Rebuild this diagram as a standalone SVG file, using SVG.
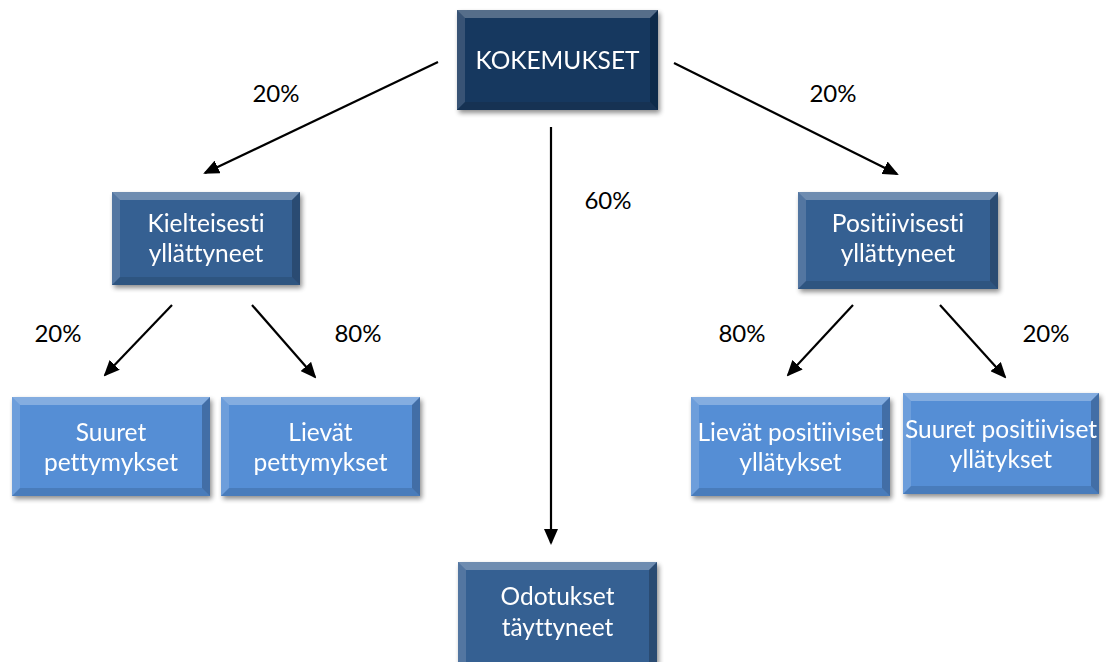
<svg xmlns="http://www.w3.org/2000/svg" width="1109" height="662" viewBox="0 0 1109 662">
<defs>
<filter id="sh" x="-10%" y="-10%" width="130%" height="130%">
<feGaussianBlur in="SourceAlpha" stdDeviation="2.5"/>
<feOffset dx="2" dy="3" result="b"/>
<feComponentTransfer><feFuncA type="linear" slope="0.45"/></feComponentTransfer>
<feMerge><feMergeNode/><feMergeNode in="SourceGraphic"/></feMerge>
</filter>
<marker id="ah" markerWidth="16" markerHeight="14" refX="14" refY="7" orient="auto" markerUnits="userSpaceOnUse" viewBox="0 0 16 14">
<path d="M0,0 L16,7 L0,14 z" fill="#000"/>
</marker>
</defs>
<style>
.lbl{font-family:"Lato","Liberation Sans",sans-serif;font-size:24px;fill:#000;text-anchor:middle;font-variant-ligatures:none}
.bt{font-family:"Lato","Liberation Sans",sans-serif;font-size:24.5px;fill:#fff;text-anchor:middle;font-variant-ligatures:none}
.ln{stroke:#000;stroke-width:2.2;fill:none;marker-end:url(#ah)}
.hi{fill:#fff;opacity:0.28}
.lo{fill:#000;opacity:0.22}
.lf{fill:#fff;opacity:0.14}
.bo{fill:#000;opacity:0.12}
</style>
<rect width="1109" height="662" fill="#fff"/>
<g id="connectors">
<line class="ln" x1="438" y1="62" x2="205" y2="173"/>
<line class="ln" x1="674" y1="63" x2="897" y2="174"/>
<line class="ln" x1="551" y1="127" x2="551" y2="543"/>
<line class="ln" x1="172" y1="305" x2="105" y2="375"/>
<line class="ln" x1="252" y1="305" x2="315" y2="377"/>
<line class="ln" x1="853" y1="305" x2="788" y2="375"/>
<line class="ln" x1="940" y1="305" x2="1005" y2="377"/>
<text class="lbl" x="276" y="102">20%</text>
<text class="lbl" x="833" y="102">20%</text>
<text class="lbl" x="608" y="209">60%</text>
<text class="lbl" x="58" y="342">20%</text>
<text class="lbl" x="358" y="342">80%</text>
<text class="lbl" x="742" y="342">80%</text>
<text class="lbl" x="1046" y="342">20%</text>
</g>
<g id="n-kokemukset" filter="url(#sh)">
<rect x="457" y="10" width="201" height="100" fill="#17375E"/>
<polygon class="hi" points="457,10 658,10 650,18 465,18"/>
<polygon class="lf" points="457,10 465,18 465,102 457,110"/>
<polygon class="lo" points="658,10 658,110 650,102 650,18"/>
<polygon class="bo" points="457,110 658,110 650,102 465,102"/>
<text class="bt" x="557.5" y="69">KOKEMUKSET</text>
</g>
<g id="n-kielteisesti" filter="url(#sh)">
<rect x="112" y="192" width="188" height="93" fill="#366092"/>
<polygon class="hi" points="112,192 300,192 292,200 120,200"/>
<polygon class="lf" points="112,192 120,200 120,277 112,285"/>
<polygon class="lo" points="300,192 300,285 292,277 292,200"/>
<polygon class="bo" points="112,285 300,285 292,277 120,277"/>
<text class="bt" x="206" y="232">Kielteisesti</text>
<text class="bt" x="206" y="262">yllättyneet</text>
</g>
<g id="n-positiivisesti" filter="url(#sh)">
<rect x="798" y="192" width="200" height="97" fill="#366092"/>
<polygon class="hi" points="798,192 998,192 990,200 806,200"/>
<polygon class="lf" points="798,192 806,200 806,281 798,289"/>
<polygon class="lo" points="998,192 998,289 990,281 990,200"/>
<polygon class="bo" points="798,289 998,289 990,281 806,281"/>
<text class="bt" x="898" y="232">Positiivisesti</text>
<text class="bt" x="898" y="262">yllättyneet</text>
</g>
<g id="n-suuret-pettymykset" filter="url(#sh)">
<rect x="12" y="397" width="198" height="99" fill="#558ED5"/>
<polygon class="hi" points="12,397 210,397 202,405 20,405"/>
<polygon class="lf" points="12,397 20,405 20,488 12,496"/>
<polygon class="lo" points="210,397 210,496 202,488 202,405"/>
<polygon class="bo" points="12,496 210,496 202,488 20,488"/>
<text class="bt" x="111" y="441">Suuret</text>
<text class="bt" x="111" y="471">pettymykset</text>
</g>
<g id="n-lievat-pettymykset" filter="url(#sh)">
<rect x="221" y="397" width="199" height="99" fill="#558ED5"/>
<polygon class="hi" points="221,397 420,397 412,405 229,405"/>
<polygon class="lf" points="221,397 229,405 229,488 221,496"/>
<polygon class="lo" points="420,397 420,496 412,488 412,405"/>
<polygon class="bo" points="221,496 420,496 412,488 229,488"/>
<text class="bt" x="320.5" y="441">Lievät</text>
<text class="bt" x="320.5" y="471">pettymykset</text>
</g>
<g id="n-lievat-positiiviset" filter="url(#sh)">
<rect x="691" y="397" width="199" height="99" fill="#558ED5"/>
<polygon class="hi" points="691,397 890,397 882,405 699,405"/>
<polygon class="lf" points="691,397 699,405 699,488 691,496"/>
<polygon class="lo" points="890,397 890,496 882,488 882,405"/>
<polygon class="bo" points="691,496 890,496 882,488 699,488"/>
<text class="bt" x="790.5" y="441">Lievät positiiviset</text>
<text class="bt" x="790.5" y="471">yllätykset</text>
</g>
<g id="n-suuret-positiiviset" filter="url(#sh)">
<rect x="903" y="393" width="196" height="101" fill="#558ED5"/>
<polygon class="hi" points="903,393 1099,393 1091,401 911,401"/>
<polygon class="lf" points="903,393 911,401 911,486 903,494"/>
<polygon class="lo" points="1099,393 1099,494 1091,486 1091,401"/>
<polygon class="bo" points="903,494 1099,494 1091,486 911,486"/>
<text class="bt" x="1001" y="438">Suuret positiiviset</text>
<text class="bt" x="1001" y="468">yllätykset</text>
</g>
<g id="n-odotukset" filter="url(#sh)">
<rect x="458" y="562" width="199" height="106" fill="#366092"/>
<polygon class="hi" points="458,562 657,562 649,570 466,570"/>
<polygon class="lf" points="458,562 466,570 466,668 458,668"/>
<polygon class="lo" points="657,562 657,668 649,668 649,570"/>
<text class="bt" x="557.5" y="605">Odotukset</text>
<text class="bt" x="557.5" y="636">täyttyneet</text>
</g>
</svg>
